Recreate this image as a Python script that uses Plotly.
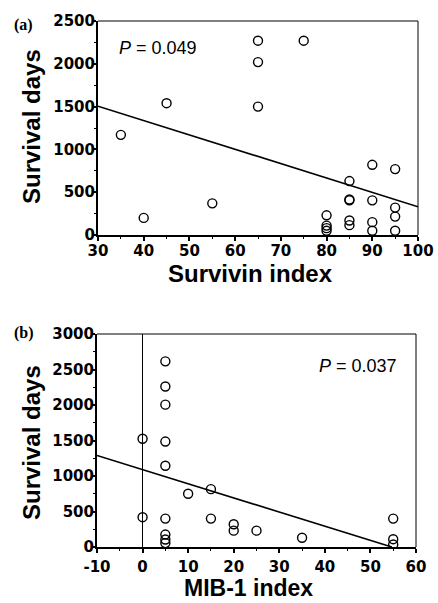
import plotly.graph_objects as go

# Panel (a): Survivin index vs survival days
surv_x = [35, 40, 45, 55, 65, 65, 65, 75, 80, 80, 80, 80, 85, 85, 85, 85, 85, 90, 90, 90, 90, 95, 95, 95, 95]
surv_y = [1170, 200, 1540, 370, 2270, 2020, 1500, 2270, 230, 110, 80, 50, 630, 415, 405, 170, 115, 820, 405, 150, 50, 770, 320, 215, 50]
fit_a_x = [30, 100]
fit_a_y = [1505, 330]
tick_a_x = [30, 40, 50, 60, 70, 80, 90, 100]
tick_a_y = [0, 500, 1000, 1500, 2000, 2500]

# Panel (b): MIB-1 index vs survival days
mib_x = [0, 0, 5, 5, 5, 5, 5, 5, 5, 5, 5, 10, 15, 15, 20, 20, 25, 35, 55, 55, 55]
mib_y = [1525, 420, 2615, 2260, 2005, 1485, 1145, 400, 175, 105, 55, 750, 815, 400, 320, 230, 230, 130, 400, 110, 35]
fit_b_x = [-10, 54.7]
fit_b_y = [1290, 0]
tick_b_x = [-10, 0, 10, 20, 30, 40, 50, 60]
tick_b_y = [0, 500, 1000, 1500, 2000, 2500, 3000]

W, H = 438, 603
SANS = "Liberation Sans, Arial, sans-serif"
WIDE = "DejaVu Sans, Verdana, sans-serif"
SERIF = "Liberation Serif, Times New Roman, serif"

def px_x(p):
    return p / W

def px_y(p):
    return 1 - p / H

fig = go.Figure()

marker = dict(symbol="circle-open", size=9, color="black", line=dict(width=1.4, color="black"))

fig.add_trace(go.Scatter(x=surv_x, y=surv_y, mode="markers", marker=marker, xaxis="x", yaxis="y", showlegend=False))
fig.add_trace(go.Scatter(x=fit_a_x, y=fit_a_y, mode="lines", line=dict(color="black", width=1.6), xaxis="x", yaxis="y", showlegend=False))
fig.add_trace(go.Scatter(x=mib_x, y=mib_y, mode="markers", marker=marker, xaxis="x2", yaxis="y2", showlegend=False))
fig.add_trace(go.Scatter(x=fit_b_x, y=fit_b_y, mode="lines", line=dict(color="black", width=1.6), xaxis="x2", yaxis="y2", showlegend=False))

tickfont = dict(family=WIDE, size=15, color="black", weight="bold")

def xax(domain, rng, anchor, ticks, standoff, zeroline=False):
    return dict(domain=domain, range=rng, anchor=anchor, automargin=False,
                tickmode="array", tickvals=ticks, ticktext=[str(t) for t in ticks],
                showgrid=False, zeroline=zeroline, zerolinecolor="black", zerolinewidth=1,
                showline=True, linecolor="black", linewidth=2,
                ticks="outside", ticklen=4, tickwidth=1.5, tickcolor="black",
                ticklabelstandoff=standoff,
                minor=dict(dtick=5, tick0=0, ticks="outside", ticklen=2, tickwidth=1, tickcolor="black"),
                tickfont=tickfont, fixedrange=True)

def yax(domain, rng, anchor, ticks):
    return dict(domain=domain, range=rng, anchor=anchor, automargin=False,
                tickmode="array", tickvals=ticks, ticktext=[str(t) for t in ticks],
                showgrid=False, zeroline=False,
                showline=True, linecolor="black", linewidth=2,
                ticks="outside", ticklen=4, tickwidth=1.5, tickcolor="black",
                ticklabelstandoff=-6,
                minor=dict(dtick=250, tick0=0, ticks="outside", ticklen=2, tickwidth=1, tickcolor="black"),
                tickfont=tickfont, fixedrange=True)

fig.update_layout(
    template="none",
    width=W, height=H,
    margin=dict(l=0, r=0, t=0, b=0, pad=0),
    paper_bgcolor="white", plot_bgcolor="white",
    xaxis=xax([px_x(98), px_x(418)], [30, 100], "y", tick_a_x, -3),
    yaxis=yax([px_y(235), px_y(21)], [0, 2500], "x", tick_a_y),
    xaxis2=xax([px_x(97), px_x(416)], [-10, 60], "y2", tick_b_x, 1, zeroline=True),
    yaxis2=yax([px_y(547), px_y(334)], [0, 3000], "x2", tick_b_y),
)

# thin top/right borders
for xr, yr in [("x", "y"), ("x2", "y2")]:
    fig.add_shape(type="line", xref=f"{xr} domain", yref=f"{yr} domain", x0=0, x1=1, y0=1, y1=1,
                  line=dict(color="black", width=1))
    fig.add_shape(type="line", xref=f"{xr} domain", yref=f"{yr} domain", x0=1, x1=1, y0=0, y1=1,
                  line=dict(color="black", width=1))

ann = []
# panel labels
ann.append(dict(text="(a)", x=px_x(12), y=px_y(25), xref="paper", yref="paper", xanchor="left", yanchor="middle",
                showarrow=False, font=dict(family=SERIF, size=16, color="black", weight="bold")))
ann.append(dict(text="(b)", x=px_x(12), y=px_y(333), xref="paper", yref="paper", xanchor="left", yanchor="middle",
                showarrow=False, font=dict(family=SERIF, size=16, color="black", weight="bold")))
# axis titles
titlefont = dict(family=SANS, size=24, color="black", weight="bold")
ann.append(dict(text="Survival days", x=px_x(31), y=px_y(127), xref="paper", yref="paper", textangle=-90,
                xanchor="center", yanchor="middle", showarrow=False, font=titlefont))
ann.append(dict(text="Survival days", x=px_x(31), y=px_y(443), xref="paper", yref="paper", textangle=-90,
                xanchor="center", yanchor="middle", showarrow=False, font=titlefont))
ann.append(dict(text="Survivin index", x=px_x(250), y=px_y(273), xref="paper", yref="paper",
                xanchor="center", yanchor="middle", showarrow=False, font=titlefont))
ann.append(dict(text="MIB-1 index", x=px_x(248), y=0, xref="paper", yref="paper",
                xanchor="center", yanchor="bottom", showarrow=False,
                font=dict(family=SANS, size=23, color="black", weight="bold")))
# P values
pfont = dict(family=SANS, size=18, color="black")
ann.append(dict(text="<i>P</i> = 0.049", x=px_x(117), y=px_y(48), xref="paper", yref="paper",
                xanchor="left", yanchor="middle", showarrow=False, font=pfont))
ann.append(dict(text="<i>P</i> = 0.037", x=px_x(399), y=px_y(366), xref="paper", yref="paper",
                xanchor="right", yanchor="middle", showarrow=False, font=pfont))

fig.update_layout(annotations=ann)

fig.write_html("out.html")
